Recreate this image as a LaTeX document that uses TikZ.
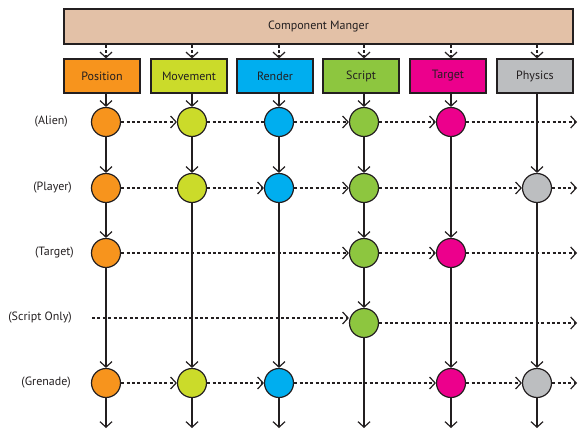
\documentclass[tikz,border=0pt]{standalone}
\usepackage{fontspec}
\setmainfont{PT Sans}
\usetikzlibrary{arrows.meta}
\definecolor{mgrc}{HTML}{E3C1A7}
\definecolor{posc}{HTML}{F7941D}
\definecolor{movc}{HTML}{CBDB2A}
\definecolor{renc}{HTML}{00AEEF}
\definecolor{scrc}{HTML}{8DC63F}
\definecolor{tgtc}{HTML}{EC008C}
\definecolor{phyc}{HTML}{BCBEC0}
\definecolor{ink}{HTML}{231F20}
\begin{document}
\begin{tikzpicture}[x=1pt,y=-1pt,
  every node/.style={text=ink, font=\fontsize{12}{14}\selectfont},
  mgrbox/.style={draw=ink, line width=1.2pt, fill=mgrc, minimum width=509pt, minimum height=35pt, inner sep=0pt},
  compbox/.style={draw=ink, line width=1.2pt, minimum width=76pt, minimum height=34pt, inner sep=0pt},
  dot/.style={circle, draw=ink, line width=1.2pt, minimum size=29pt, inner sep=0pt},
  rowlabel/.style={anchor=east, inner sep=0pt},
  solidarrow/.style={draw=ink, line width=1.2pt, -{Straight Barb[length=5.5pt,width=12pt,line width=1.2pt]}},
  dasharrow/.style={solidarrow, dash pattern=on 3pt off 2.4pt},
  dashplain/.style={draw=ink, line width=1.2pt, dash pattern=on 3pt off 2.4pt}
]
\useasboundingbox (0,0) rectangle (579,434);

% manager and component boxes
\node[mgrbox] (mgr) at (318.5,26.5) {Component Manger};
\node[compbox, fill=posc] (pos) at (102,76) {Position};
\node[compbox, fill=movc] (mov) at (189,76) {Movement};
\node[compbox, fill=renc] (ren) at (275,76) {Render};
\node[compbox, fill=scrc] (scr) at (361,76) {Script};
\node[compbox, fill=tgtc] (tgt) at (448,76) {Target};
\node[compbox, fill=phyc] (phy) at (535,76) {Physics};

% row labels
\node[rowlabel] (lalien) at (68,122) {(Alien)};
\node[rowlabel] (lplayer) at (72,188) {(Player)};
\node[rowlabel] (ltarget) at (74,253) {(Target)};
\node[rowlabel] (lscript) at (72,318) {(Script Only)};
\node[rowlabel] (lgren) at (71,383) {(Grenade)};

% circles: Alien row
\node[dot, fill=posc] (p1) at (106,122) {};
\node[dot, fill=movc] (m1) at (192,122) {};
\node[dot, fill=renc] (r1) at (279,122) {};
\node[dot, fill=scrc] (s1) at (364,122) {};
\node[dot, fill=tgtc] (t1) at (451,122) {};
% Player row
\node[dot, fill=posc] (p2) at (106,188) {};
\node[dot, fill=movc] (m2) at (192,188) {};
\node[dot, fill=renc] (r2) at (279,188) {};
\node[dot, fill=scrc] (s2) at (364,188) {};
\node[dot, fill=phyc] (h2) at (537,188) {};
% Target row
\node[dot, fill=posc] (p3) at (106,253) {};
\node[dot, fill=scrc] (s3) at (364,253) {};
\node[dot, fill=tgtc] (t3) at (451,253) {};
% Script only row
\coordinate (sostart) at (92,318);
\node[dot, fill=scrc] (s4) at (364,323) {};
% Grenade row
\node[dot, fill=posc] (p5) at (106,383) {};
\node[dot, fill=movc] (m5) at (192,383) {};
\node[dot, fill=renc] (r5) at (279,383) {};
\node[dot, fill=tgtc] (t5) at (451,383) {};
\node[dot, fill=phyc] (h5) at (537,383) {};

% free ends
\coordinate (e1) at (577,122);
\coordinate (e2) at (577,188);
\coordinate (e3) at (577,253);
\coordinate (e4) at (577,323);
\coordinate (e5) at (577,383);
\coordinate (bp) at (106,428);
\coordinate (bm) at (192,428);
\coordinate (br) at (279,428);
\coordinate (bs) at (364,428);
\coordinate (bt) at (451,428);
\coordinate (bh) at (537,428);

% manager to component boxes
\draw[dasharrow] (mgr.south -| p1) -- (pos.north -| p1);
\draw[dasharrow] (mgr.south -| m1) -- (mov.north -| m1);
\draw[dasharrow] (mgr.south -| r1) -- (ren.north -| r1);
\draw[dasharrow] (mgr.south -| s1) -- (scr.north -| s1);
\draw[dasharrow] (mgr.south -| t1) -- (tgt.north -| t1);
\draw[dasharrow] (mgr.south -| h2) -- (phy.north -| h2);

% vertical flows
\draw[solidarrow] (pos.south -| p1) -- (p1.north);
\draw[solidarrow] (p1) -- (p2.north);
\draw[solidarrow] (p2) -- (p3.north);
\draw[solidarrow] (p3) -- (p5.north);
\draw[solidarrow] (p5) -- (bp);

\draw[solidarrow] (mov.south -| m1) -- (m1.north);
\draw[solidarrow] (m1) -- (m2.north);
\draw[solidarrow] (m2) -- (m5.north);
\draw[solidarrow] (m5) -- (bm);

\draw[solidarrow] (ren.south -| r1) -- (r1.north);
\draw[solidarrow] (r1) -- (r2.north);
\draw[solidarrow] (r2) -- (r5.north);
\draw[solidarrow] (r5) -- (br);

\draw[solidarrow] (scr.south -| s1) -- (s1.north);
\draw[solidarrow] (s1) -- (s2.north);
\draw[solidarrow] (s2) -- (s3.north);
\draw[solidarrow] (s3) -- (s4.north);
\draw[solidarrow] (s4) -- (bs);

\draw[solidarrow] (tgt.south -| t1) -- (t1.north);
\draw[solidarrow] (t1) -- (t3.north);
\draw[solidarrow] (t3) -- (t5.north);
\draw[solidarrow] (t5) -- (bt);

\draw[solidarrow] (phy.south -| h2) -- (h2.north);
\draw[solidarrow] (h2) -- (h5.north);
\draw[solidarrow] (h5) -- (bh);

% horizontal flows
\draw[dasharrow] (p1) -- (m1);
\draw[dashplain] (m1) -- (r1);
\draw[dasharrow] (r1) -- (s1);
\draw[dasharrow] (s1) -- (t1);
\draw[dasharrow] (t1) -- (e1);

\draw[dashplain] (p2) -- (m2);
\draw[dasharrow] (m2) -- (r2);
\draw[dasharrow] (r2) -- (s2);
\draw[dasharrow] (s2) -- (h2);
\draw[dasharrow] (h2) -- (e2);

\draw[dasharrow] (p3) -- (s3);
\draw[dasharrow] (s3) -- (t3);
\draw[dasharrow] (t3) -- (e3);

\draw[dasharrow] (sostart) -- (s4.west |- sostart);
\draw[dasharrow] (s4) -- (e4);

\draw[dasharrow] (p5) -- (m5);
\draw[dasharrow] (m5) -- (r5);
\draw[dasharrow] (r5) -- (t5);
\draw[dasharrow] (t5) -- (h5);
\draw[dasharrow] (h5) -- (e5);
\end{tikzpicture}
\end{document}
